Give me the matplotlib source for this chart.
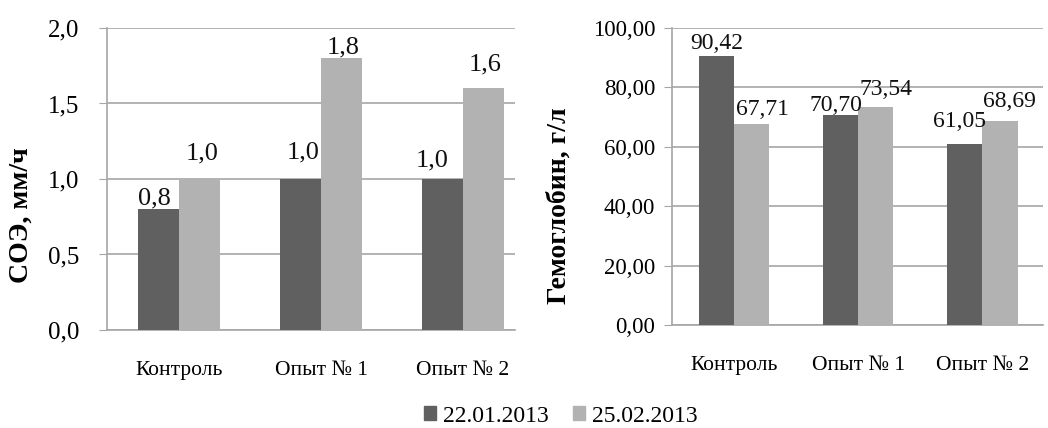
import matplotlib
matplotlib.use("Agg")
import matplotlib.pyplot as plt
from matplotlib.patches import Patch
from matplotlib.transforms import offset_copy

# --- Данные ---
groups = ["Контроль", "Опыт № 1", "Опыт № 2"]
dates = ["22.01.2013", "25.02.2013"]
soe_d1 = [0.8, 1.0, 1.0]
soe_d2 = [1.0, 1.8, 1.6]
hb_d1 = [90.42, 70.70, 61.05]
hb_d2 = [67.71, 73.54, 68.69]

# сдвиги подписей значений (px: dx, dy от верха столбца)
soe_off1 = [(-4, 11), (3, 27), (-10, 19)]
soe_off2 = [(3, 26), (2, 11), (2, 24)]
hb_off1 = [(0, 13), (-4, 9), (-5, 22)]
hb_off2 = [(11, 14), (10, 17), (10, 19)]
# сдвиги подписей категорий (px)
soe_cat_dx = [-2, -9, -13]
hb_cat_dx = [-14, -11, -1]

DARK = "#606060"
LIGHT = "#b2b2b2"
GRID = "#a6a6a6"

plt.rcParams["font.family"] = "Liberation Serif"


def fmt(v, nd):
    return f"{v:.{nd}f}".replace(".", ",")


def draw(ax, d1, d2, offs1, offs2, cat_dx, width, nd, lab_fs, tick_fs,
         tick_pad, yticks, xlim, ylabel, ylabel_xy):
    x = list(range(len(groups)))
    for sign, vals, offs, col in ((-1, d1, offs1, DARK), (1, d2, offs2, LIGHT)):
        xs = [i + sign * width / 2 for i in x]
        ax.bar(xs, vals, width, color=col, zorder=3)
        for xi, v, (dx, dy) in zip(xs, vals, offs):
            ax.annotate(fmt(v, nd), (xi, v), xytext=(dx, dy),
                        textcoords="offset pixels", ha="center", va="center",
                        fontsize=lab_fs, color="#111111", zorder=4)
    ax.set_xlim(*xlim)
    ax.set_ylim(yticks[0], yticks[-1])
    ax.set_yticks(yticks)
    ax.set_yticklabels([fmt(t, nd) for t in yticks], fontsize=tick_fs)
    ax.set_xticks(x)
    ax.set_xticklabels(groups, fontsize=15.5)
    for lab, dx in zip(ax.get_xticklabels(), cat_dx):
        lab.set_transform(offset_copy(lab.get_transform(), fig=ax.figure,
                                      x=dx, y=0, units="dots"))
    ax.tick_params(axis="x", length=0, pad=22)
    ax.tick_params(axis="y", length=6, color=GRID, pad=tick_pad)
    ax.yaxis.grid(True, color=GRID, lw=1.2, zorder=0)
    for s in ("top", "right"):
        ax.spines[s].set_visible(False)
    for s in ("left", "bottom"):
        ax.spines[s].set_color(GRID)
        ax.spines[s].set_linewidth(1.2)
    ax.set_ylabel(ylabel, fontsize=20, fontweight="bold")
    ax.yaxis.set_label_coords(*ylabel_xy)


fig = plt.figure(figsize=(10.48, 4.28), dpi=100)

ax1 = fig.add_axes([0.1021, 0.229, 0.3893, 0.7056])
draw(ax1, soe_d1, soe_d2, soe_off1, soe_off2, soe_cat_dx, 0.29, 1, 19, 18, 14,
     [0.0, 0.5, 1.0, 1.5, 2.0], (-0.507, 2.366), "СОЭ, мм/ч", (-0.18, 0.38))

ax2 = fig.add_axes([0.6412, 0.2407, 0.354, 0.694])
draw(ax2, hb_d1, hb_d2, hb_off1, hb_off2, hb_cat_dx, 0.285, 2, 17, 16.5, 6,
     [0, 20, 40, 60, 80, 100], (-0.5, 2.49), "Гемоглобин, г/л", (-0.27, 0.40))

handles = [Patch(color=DARK), Patch(color=LIGHT)]
fig.legend(handles, dates, loc="center", bbox_to_anchor=(0.535, 0.028),
           ncol=2, frameon=False, fontsize=17, handlelength=0.5,
           handleheight=0.5, handletextpad=0.3, columnspacing=1.05)

fig.savefig("out.png", dpi=100)
